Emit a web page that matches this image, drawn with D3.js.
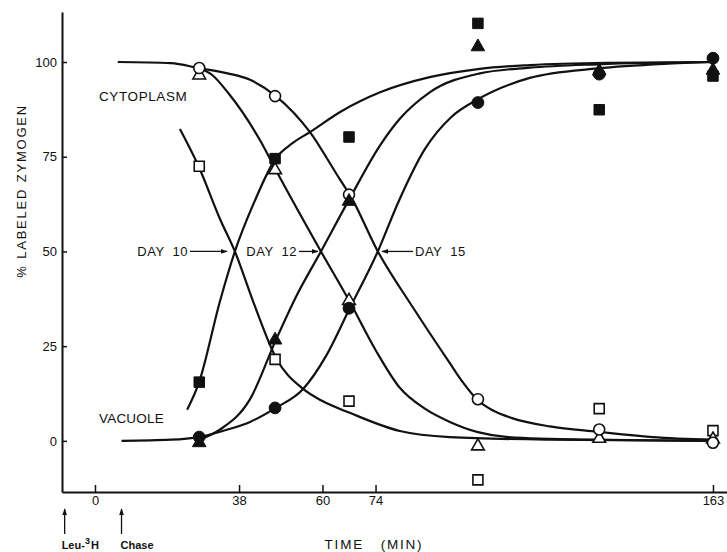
<!DOCTYPE html>
<html>
<head>
<meta charset="utf-8">
<script src="https://cdn.jsdelivr.net/npm/d3@7"></script>
<style>
  body { margin: 0; background: #fff; }
  svg { display: block; }
  text { font-family: "Liberation Sans", Arial, sans-serif; fill: #111; }
</style>
</head>
<body>
<svg id="chart" width="727" height="552"></svg>
<script>
// Sampling times after the pulse (min)
const times = [27.5, 47.5, 67, 101, 133, 163];

// Measured % labeled zymogen at each sampling time
const day10Cyto = [72.5, 21.5, 10.5, -10.3, 8.5, 2.7];   // open squares
const day10Vac  = [15.5, 74.5, 80.2, 110.2, 87.4, 96.3]; // filled squares
const day12Cyto = [96.5, 71.5, 37, -1.4, 0.6, 0.4];      // open triangles
const day12Vac  = [-0.5, 26.6, 63.2, 104, 97.6, 97.8];   // filled triangles
const day15Cyto = [98.4, 91, 65, 11, 3, -0.5];           // open circles
const day15Vac  = [1, 8.7, 35, 89.3, 96.8, 101];         // filled circles

// Hand-drawn smooth curves, knots as [time, percent]
const day15CytoCurve = [[6,100],[20,99.7],[27.4,98.4],[35,97],[40.9,95.3],[47.7,91],[56.7,81.5],[64.6,69],[67.2,65],[74.6,50],[84,35],[93.6,20.5],[97,15.5],[100.7,11],[105,8],[110,6],[120,3.8],[132.6,2.4],[147,1],[163,0.3]];
const day12CytoCurve = [[27.4,98.4],[31,96.5],[35,92],[43.5,79.4],[47.7,71.5],[59.6,50],[67.2,36.7],[74,24],[80.4,14],[87,8.5],[93.6,5],[101,2.3],[109,1],[130,0.3],[163,0]];
const day10CytoCurve = [[22.4,82.3],[27.4,72.3],[33,58.5],[36.9,50],[42,36],[47.7,22],[54.9,13.7],[60,10.5],[67.2,7.4],[80.4,2.6],[93.6,1],[120,0.3],[163,0]];
const day15VacCurve  = [[7,0],[20,0.3],[27.4,1],[35,3],[40.9,5],[47.7,8.7],[54.9,13.7],[61,22.5],[67.2,35],[74.6,50],[80,63],[87,77],[94,85.5],[100.7,90],[114.7,95.8],[132.6,98.3],[150,99.5],[163,100]];
const day12VacCurve  = [[27.4,0.3],[33,3],[40.9,11],[47.7,26.6],[53,38],[59.6,50],[67.2,64],[75.2,78],[80.4,85],[88.3,92],[101.5,97],[114.7,98.5],[132.6,99.4],[163,100]];
const day10VacCurve  = [[24.3,8.2],[27.4,15.3],[33,37],[36.9,50],[42,63],[47.7,74.6],[52,78.5],[56.7,81.5],[65,87],[75.2,92],[88.3,96],[101.5,98.2],[114.7,99.2],[135,99.8],[163,100]];

// Axis ticks
const xTicks = [0, 38, 60, 74, 163];
const yTicks = [0, 25, 50, 75, 100];

// Half-times (50% crossing) for each culture age
const dayNames = ["DAY 10", "DAY 12", "DAY 15"];
const halfTimes = [38, 60, 74];

// Experimental events marked under the time axis
const eventNames = ["Leu-", "Chase"];
const eventTimes = [-8, 7];

const svg = d3.select("#chart");

const x = d3.scaleLinear().domain([-8.7, 166.7]).range([62, 727]);
const y = d3.scaleLinear().domain([-13.5, 113.2]).range([492, 12]);

// arrowhead marker
svg.append("defs").append("marker")
  .attr("id", "arrow")
  .attr("viewBox", "0 0 10 10")
  .attr("refX", 9).attr("refY", 5)
  .attr("markerWidth", 7).attr("markerHeight", 7)
  .attr("markerUnits", "userSpaceOnUse")
  .attr("orient", "auto")
  .append("path").attr("d", "M0,1.5 L10,5 L0,8.5 Z").attr("fill", "#111");

// ----- axes -----
const yAxis = d3.axisLeft(y).tickValues(yTicks).tickSize(-5).tickSizeOuter(0).tickPadding(5);
const gy = svg.append("g").attr("transform", `translate(${x.range()[0]},0)`).call(yAxis);
gy.select(".domain").attr("stroke", "#111").attr("stroke-width", 2);
gy.selectAll(".tick line").attr("stroke", "#111").attr("stroke-width", 1.5);
gy.selectAll(".tick text").attr("font-size", 13).attr("font-family", "Liberation Sans, Arial, sans-serif").attr("fill", "#111");

const xAxis = d3.axisBottom(x).tickValues(xTicks).tickSize(-7).tickSizeOuter(0).tickPadding(4);
const gx = svg.append("g").attr("transform", `translate(0,${y.range()[0]})`).call(xAxis);
gx.select(".domain").attr("stroke", "#111").attr("stroke-width", 2);
gx.selectAll(".tick line").attr("stroke", "#111").attr("stroke-width", 1.5);
gx.selectAll(".tick text").attr("font-size", 13).attr("font-family", "Liberation Sans, Arial, sans-serif").attr("fill", "#111");

// axis titles
svg.append("text")
  .attr("transform", `translate(26,${y(66)}) rotate(-90)`)
  .attr("text-anchor", "middle")
  .attr("font-size", 13).attr("letter-spacing", 1.8)
  .text("% LABELED ZYMOGEN");

svg.append("text")
  .attr("x", 374).attr("y", 549)
  .attr("text-anchor", "middle")
  .attr("font-size", 13.5).attr("letter-spacing", 1.8)
  .style("white-space", "pre")
  .text("TIME   (MIN)");

// event arrows beneath the axis
eventTimes.forEach((t, i) => {
  svg.append("line")
    .attr("x1", x(t)).attr("x2", x(t))
    .attr("y1", 534).attr("y2", 509)
    .attr("stroke", "#111").attr("stroke-width", 1.3)
    .attr("marker-end", "url(#arrow)");
  const lbl = svg.append("text")
    .attr("x", x(t) - (i === 0 ? 3 : 1)).attr("y", 549)
    .attr("font-size", 11).attr("font-weight", "bold")
    .text(eventNames[i]);
  if (i === 0) {
    lbl.append("tspan").attr("dy", -5).attr("font-size", 9).text("3");
    lbl.append("tspan").attr("dy", 5).attr("dx", 1).text("H");
  }
});

// ----- curves -----
const line = d3.line()
  .x(d => x(d[0])).y(d => y(d[1]))
  .curve(d3.curveMonotoneX);

[day15CytoCurve, day12CytoCurve, day10CytoCurve, day15VacCurve, day12VacCurve, day10VacCurve]
  .forEach(c => {
    svg.append("path")
      .attr("d", line(c))
      .attr("fill", "none")
      .attr("stroke", "#111")
      .attr("stroke-width", 2.2);
  });

// ----- data points -----
const series = [
  { vals: day10Cyto, shape: d3.symbolSquare,   size: 100, filled: false },
  { vals: day12Cyto, shape: d3.symbolTriangle, size: 70,  filled: false },
  { vals: day15Cyto, shape: d3.symbolCircle,   size: 95,  filled: false },
  { vals: day10Vac,  shape: d3.symbolSquare,   size: 110, filled: true },
  { vals: day12Vac,  shape: d3.symbolTriangle, size: 80,  filled: true },
  { vals: day15Vac,  shape: d3.symbolCircle,   size: 110, filled: true }
];

series.forEach(s => {
  const sym = d3.symbol().type(s.shape).size(s.size);
  svg.append("g").selectAll("path")
    .data(s.vals.map((v, i) => [times[i], v]))
    .join("path")
    .attr("transform", d => `translate(${x(d[0])},${y(d[1])})`)
    .attr("d", sym)
    .attr("fill", s.filled ? "#111" : "#fff")
    .attr("stroke", "#111")
    .attr("stroke-width", s.filled ? 1 : 1.6);
});

// ----- compartment labels -----
svg.append("text").attr("x", 99).attr("y", 101)
  .attr("font-size", 13.5).attr("letter-spacing", 0.6).text("CYTOPLASM");
svg.append("text").attr("x", 99).attr("y", 423)
  .attr("font-size", 13.5).attr("letter-spacing", 0.2).text("VACUOLE");

// ----- half-time labels with arrows -----
const labelLayout = [
  { textX: 188, anchor: "end",   from: 190, to: 227 },
  { textX: 297, anchor: "end",   from: 299, to: 318 },
  { textX: 415, anchor: "start", from: 413, to: 382 }
];
dayNames.forEach((name, i) => {
  const L = labelLayout[i];
  const yy = y(50);
  svg.append("text")
    .attr("x", L.textX).attr("y", yy + 5)
    .attr("text-anchor", L.anchor)
    .attr("font-size", 13).attr("letter-spacing", 0.5)
    .style("white-space", "pre")
    .text(name.replace(" ", "  "));
  svg.append("line")
    .attr("x1", L.from).attr("x2", L.to)
    .attr("y1", yy).attr("y2", yy)
    .attr("stroke", "#111").attr("stroke-width", 1.3)
    .attr("marker-end", "url(#arrow)");
});
</script>
</body>
</html>
